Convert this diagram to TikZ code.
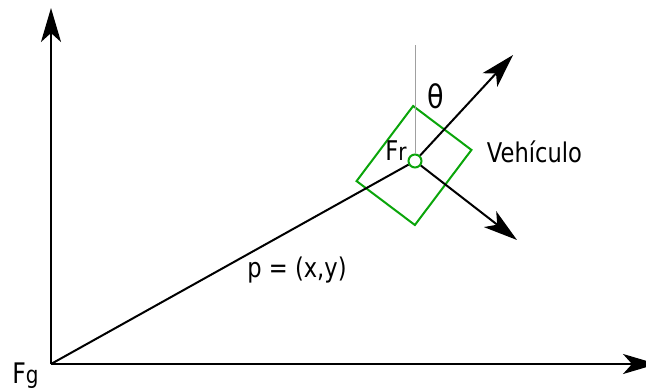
\documentclass[tikz,border=0pt]{standalone}
\usepackage{fontspec}
\setmainfont{DejaVu Sans}
\usetikzlibrary{arrows.meta, positioning}
\definecolor{VehGreen}{RGB}{10,165,10}
\definecolor{RefGray}{RGB}{160,160,160}
\newcommand{\lowlbl}[1]{{\fontsize{10}{9}\selectfont #1}}

\begin{document}
\begin{tikzpicture}[x=0.5pt, y=-0.5pt, line width=1pt,
    vec/.style={-{Stealth[length=17pt, width=10pt, inset=4.5pt]}},
    lbl/.style={font=\fontsize{11.3}{13}\selectfont, inner sep=0pt,
                anchor=base, yscale=1.2}]
  \useasboundingbox (0,0) rectangle (646,390);
  \clip (0,0) rectangle (646,390);

  % Global frame
  \coordinate (Og) at (51,364);
  \coordinate (yend) at (51,8);
  \coordinate (xend) at (657,364);
  \draw[vec] (Og) -- (yend);
  \draw[vec] (Og) -- (xend);
  \node[lbl, font=\fontsize{11.8}{13}\selectfont] (Fg) at (25.5,383)
        {F\lowlbl{g}};

  % Vehicle body and its frame
  \node[draw=VehGreen, minimum width=36.5pt, minimum height=47pt,
        rotate=-37, inner sep=0pt] (body) at (414,165.5) {};
  \node[circle, draw=VehGreen, minimum size=6.5pt, inner sep=0pt] (Fr)
        at (415,161) {};
  \coordinate (vert) at (415,45);
  \coordinate (head) at (513,55);
  \coordinate (side) at (517,240);
  \draw[RefGray, line width=0.5pt] (Fr) -- (vert);
  \draw[vec] (Fr) -- (head);
  \draw[vec] (Fr) -- (side);

  % Position vector
  \draw (Og) -- (Fr);

  % Labels
  \node[lbl, font=\fontsize{13.5}{15}\selectfont] (theta) at (435.5,108) {θ};
  \node[lbl] (Frlbl) at (396,160) {F\lowlbl{r}};
  \node[lbl] (veh) at (534.5,162) {Vehículo};
  \node[lbl] (pos) at (297,277) {p = (x,y)};
\end{tikzpicture}
\end{document}
